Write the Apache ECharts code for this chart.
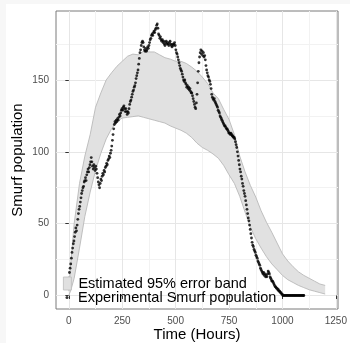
<!DOCTYPE html>
<html>
<head>
<meta charset="utf-8">
<script src="https://cdn.jsdelivr.net/npm/echarts@6.0.0/dist/echarts.min.js"></script>
<style>
  html, body { margin: 0; padding: 0; background: #f7f7f7; }
  #chart { position: absolute; left: 6px; top: 4px; width: 344px; height: 339px; background: #fff; }
</style>
</head>
<body>
<div id="chart"></div>
<script>
// error band (hours, lower and upper bound of the 95% band)
const bandHours = [0, 10, 25, 50, 75, 100, 125, 150, 175, 200, 225, 250, 275, 300, 325, 350, 375, 400, 425, 450, 475, 500, 525, 550, 575, 600, 625, 650, 675, 700, 725, 750, 775, 800, 825, 850, 875, 900, 925, 950, 975, 1000, 1025, 1050, 1075, 1100, 1125, 1150, 1175, 1200]
const bandLower = [0, 4, 12, 33, 55, 72, 87, 99, 109, 116, 121, 123.5, 124, 124.5, 125, 124, 123, 122, 121, 120, 118, 116.5, 115, 113, 110, 106, 103, 101, 98.5, 95.5, 90.5, 84, 78, 69, 58, 47.5, 39.5, 33, 27, 22, 18, 14, 11, 9, 7, 5.5, 4, 3, 2, 1]
const bandUpper = [3, 24, 50, 78, 97, 112, 131, 141, 150, 155, 159.5, 163, 166.5, 168, 167.5, 170, 169.5, 169.5, 167.5, 165.5, 164.5, 163, 163, 161.5, 159, 156, 152, 147.5, 141, 137, 129.5, 122.5, 112, 97, 86, 76.5, 68.5, 59, 51, 44, 36.5, 29, 24, 20, 16.5, 14, 12, 10, 8, 7]

// experimental smurf population [hours, count]
const expPoints = [
  [0, 12], [3, 16], [6, 19], [9, 22], [12, 26], [15, 30], [18, 33], [21, 36], [24, 38], [27, 41], [30, 44], [33, 47], [36, 45], [39, 49],
  [42, 53], [45, 57], [48, 60], [51, 62], [54, 65], [57, 68], [60, 71], [63, 73], [66, 75], [69, 76], [72, 79], [75, 80], [78, 82], [81, 80],
  [84, 84], [87, 86], [90, 88], [93, 86], [96, 89], [99, 91], [102, 93], [105, 96], [108, 93], [111, 90], [114, 88], [117, 91], [120, 89],
  [123, 87], [126, 90], [129, 88], [132, 85], [135, 82], [138, 79], [141, 77], [144, 75], [147, 78], [150, 81], [153, 80], [156, 83],
  [159, 85], [162, 84], [165, 87], [168, 86], [171, 89], [174, 90], [177, 92], [180, 91], [183, 94], [186, 95], [189, 97], [192, 96],
  [195, 99], [198, 101], [201, 104], [204, 108], [207, 112], [210, 116], [213, 119], [216, 121], [219, 120], [222, 122], [225, 121],
  [228, 123], [231, 122], [234, 124], [237, 126], [240, 125], [243, 127], [246, 129], [249, 130], [252, 129], [255, 131], [258, 132],
  [261, 130], [264, 128], [267, 130], [270, 128], [273, 126], [276, 128], [279, 127], [282, 130], [285, 133], [288, 135], [291, 136],
  [294, 138], [297, 140], [300, 142], [303, 143], [306, 145], [309, 146], [312, 148], [315, 151], [318, 153], [321, 155], [324, 157],
  [327, 161], [330, 165], [333, 169], [336, 171], [339, 174], [342, 176], [345, 177], [348, 176], [351, 173], [354, 171], [357, 170],
  [360, 172], [363, 170], [366, 171], [369, 173], [372, 172], [375, 174], [378, 176], [381, 178], [384, 179], [387, 181], [390, 182],
  [393, 181], [396, 183], [399, 184], [402, 183], [405, 185], [408, 186], [411, 188], [414, 189], [417, 186], [420, 182], [423, 181],
  [426, 179], [429, 180], [432, 178], [435, 177], [438, 178], [441, 176], [444, 177], [447, 175], [450, 174], [453, 176], [456, 177],
  [459, 175], [462, 176], [465, 175], [468, 174], [471, 176], [474, 177], [477, 175], [480, 174], [483, 173], [486, 175], [489, 174],
  [492, 175], [495, 176], [498, 174], [501, 171], [504, 169], [507, 168], [510, 166], [513, 164], [516, 162], [519, 160], [522, 158],
  [525, 157], [528, 156], [531, 154], [534, 152], [537, 150], [540, 149], [543, 150], [546, 148], [549, 147], [552, 145], [555, 146],
  [558, 144], [561, 145], [564, 143], [567, 144], [570, 142], [573, 141], [576, 141], [579, 139], [582, 137], [585, 135], [588, 133],
  [591, 131], [594, 130], [597, 134], [600, 140], [603, 148], [606, 156], [609, 162], [612, 166], [615, 169], [618, 171], [621, 168],
  [624, 170], [627, 167], [630, 169], [633, 166], [636, 167], [639, 164], [642, 160], [645, 157], [648, 155], [651, 153], [654, 152],
  [657, 150], [660, 149], [663, 147], [666, 144], [669, 140], [672, 138], [675, 137], [678, 136], [681, 137], [684, 135], [687, 134],
  [690, 133], [693, 132], [696, 131], [699, 129], [702, 128], [705, 127], [708, 125], [711, 124], [714, 123], [717, 122], [720, 121],
  [723, 120], [726, 119], [729, 118], [732, 118], [735, 117], [738, 116], [741, 116], [744, 115], [747, 114], [750, 113], [753, 113],
  [756, 112], [759, 113], [762, 112], [765, 111], [768, 111], [771, 110], [774, 110], [777, 109], [780, 107], [783, 105], [786, 103],
  [789, 100], [792, 97], [795, 94], [798, 91], [801, 88], [804, 86], [807, 83], [810, 81], [813, 78], [816, 76], [819, 73], [822, 71],
  [825, 69], [828, 66], [831, 63], [834, 60], [837, 57], [840, 54], [843, 52], [846, 49], [849, 46], [852, 43], [855, 40], [858, 37],
  [861, 35], [864, 34], [867, 32], [870, 31], [873, 30], [876, 28], [879, 27], [882, 26], [885, 24], [888, 23], [891, 22], [894, 21],
  [897, 19], [900, 18], [903, 17], [906, 16], [909, 15], [912, 16], [915, 14], [918, 15], [921, 13], [924, 14], [927, 13], [930, 15],
  [933, 17], [936, 16], [939, 15], [942, 13], [945, 12], [948, 11], [951, 10], [954, 10], [957, 9], [960, 8], [963, 7], [966, 6],
  [969, 6], [972, 5], [975, 5], [978, 4], [981, 4], [984, 3], [987, 3], [990, 2], [993, 2], [996, 1], [999, 1], [1002, 0], [1006, 0],
  [1010, 0], [1014, 0], [1018, 0], [1022, 0], [1026, 0], [1030, 0], [1034, 0], [1038, 0], [1042, 0], [1046, 0], [1050, 0], [1054, 0],
  [1058, 0], [1062, 0], [1066, 0], [1070, 0], [1074, 0], [1078, 0], [1082, 0], [1086, 0], [1090, 0], [1094, 0], [1098, 0], [1100, 0]
]

// axis ticks
const xTicks = [0, 250, 500, 750, 1000, 1250]
const xMinorTicks = [125, 375, 625, 875, 1125]
const yTicks = [0, 50, 100, 150]
const yMinorTicks = [25, 75, 125, 175]

const FONT = 'Liberation Sans, Arial, sans-serif'
const BAND_NAME = 'Estimated 95% error band'
const EXP_NAME = 'Experimental Smurf population'

const chart = echarts.init(document.getElementById('chart'))

const plain = v => String(v)

const minorAxis = (min, max, pos, ticks) => ({
  type: 'value', min: min, max: max, position: pos,
  axisLine: { show: false },
  axisLabel: { show: false },
  axisTick: { show: false, customValues: ticks },
  splitLine: { show: true, lineStyle: { color: '#f2f2f2', width: 1 } }
})

const option = {
  animation: false,
  textStyle: { fontFamily: FONT },
  grid: {
    left: 50, top: 7, right: 12, bottom: 34,
    outerBoundsMode: 'none',
    containLabel: false,
    show: true, borderColor: '#7a7a7a', borderWidth: 1, backgroundColor: 'transparent'
  },
  legend: [
    {
      data: [{ name: BAND_NAME, icon: 'rect', itemStyle: { color: '#e0e0e0', borderColor: '#bdbdbd', borderWidth: 0.8 } }],
      left: 57, top: 272, padding: 0,
      itemWidth: 8, itemHeight: 13,
      selectedMode: false,
      textStyle: { fontSize: 14.5, color: '#000', fontFamily: FONT, padding: [0, 0, 0, 2] }
    },
    {
      data: [{ name: EXP_NAME, icon: 'circle', itemStyle: { color: '#000' } }],
      left: 59.5, top: 286, padding: 0,
      itemWidth: 3, itemHeight: 3,
      selectedMode: false,
      textStyle: { fontSize: 14.5, color: '#000', fontFamily: FONT, padding: [0, 0, 0, 4.5] }
    }
  ],
  xAxis: [
    {
      type: 'value', min: -60, max: 1260, position: 'bottom',
      name: 'Time (Hours)', nameLocation: 'middle', nameGap: 18, nameMoveOverlap: false,
      nameTextStyle: { fontSize: 15, color: '#000', fontFamily: FONT },
      axisLine: { show: false },
      axisTick: { show: true, length: 3.5, customValues: xTicks, lineStyle: { color: '#333' } },
      axisLabel: { customValues: xTicks, formatter: plain, fontSize: 10, color: '#4d4d4d', margin: 7.5, fontFamily: FONT },
      splitLine: { show: true, lineStyle: { color: '#e6e6e6', width: 1 } }
    },
    minorAxis(-60, 1260, 'bottom', xMinorTicks)
  ],
  yAxis: [
    {
      type: 'value', min: -9.4, max: 198, position: 'left',
      name: 'Smurf population', nameLocation: 'middle', nameGap: 31, nameMoveOverlap: false,
      nameTextStyle: { fontSize: 15, color: '#000', fontFamily: FONT },
      axisLine: { show: false },
      axisTick: { show: true, length: 3.5, customValues: yTicks, lineStyle: { color: '#333' } },
      axisLabel: { customValues: yTicks, formatter: plain, fontSize: 10, color: '#4d4d4d', margin: 7, fontFamily: FONT },
      splitLine: { show: true, lineStyle: { color: '#e6e6e6', width: 1 } }
    },
    minorAxis(-9.4, 198, 'left', yMinorTicks)
  ],
  series: [
    {
      name: BAND_NAME,
      type: 'custom',
      xAxisIndex: 0, yAxisIndex: 0,
      clip: true,
      z: 2,
      itemStyle: { color: '#e0e0e0' },
      data: [[0, 0]],
      renderItem: function (params, api) {
        const upper = bandHours.map((h, i) => api.coord([h, bandUpper[i]]))
        const lower = bandHours.map((h, i) => api.coord([h, bandLower[i]]))
        return {
          type: 'group',
          children: [
            { type: 'polygon', shape: { points: upper.concat(lower.slice().reverse()) }, style: { fill: '#e1e1e1' } },
            { type: 'polyline', shape: { points: upper }, style: { stroke: '#b9b9b9', lineWidth: 0.9, fill: null } },
            { type: 'polyline', shape: { points: lower }, style: { stroke: '#b9b9b9', lineWidth: 0.9, fill: null } }
          ]
        }
      }
    },
    {
      name: EXP_NAME,
      type: 'scatter',
      xAxisIndex: 0, yAxisIndex: 0,
      z: 3,
      symbol: 'circle',
      symbolSize: 2.8,
      itemStyle: { color: '#000' },
      data: expPoints
    }
  ]
}

chart.setOption(option)
</script>
</body>
</html>
